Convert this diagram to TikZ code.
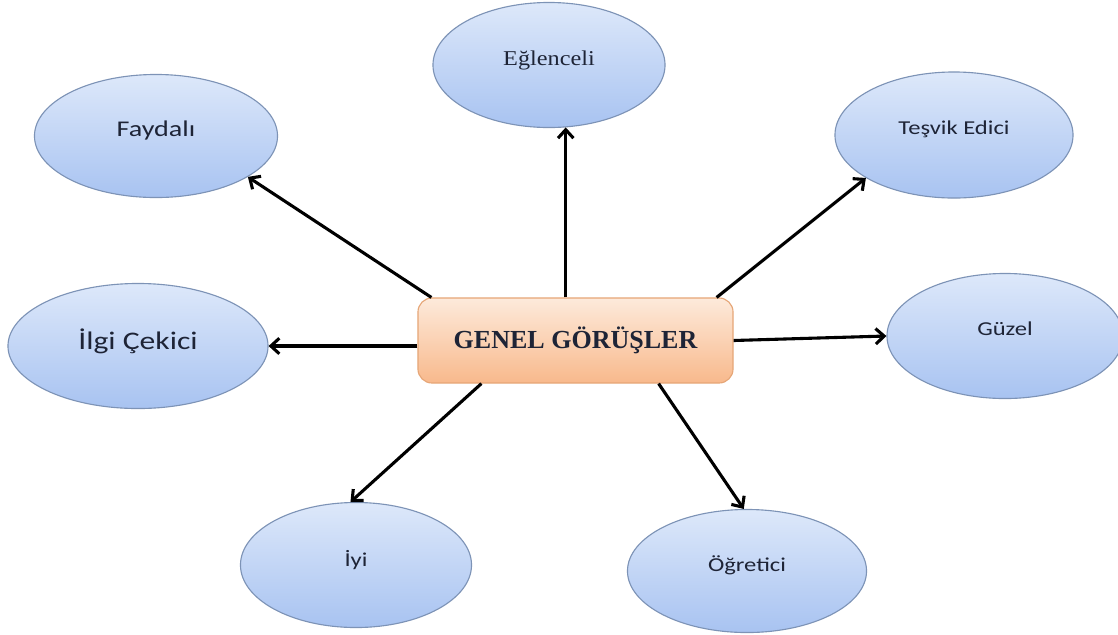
\documentclass[tikz,border=0pt]{standalone}
\usepackage{fontspec}
\setmainfont{Liberation Serif}
\newfontfamily\labelfont{Carlito}[FakeStretch=1.25]
\newfontfamily\serifwide{Liberation Serif}[FakeStretch=1.15]
\usetikzlibrary{arrows.meta, shapes.geometric, positioning}
\definecolor{ovaltop}{HTML}{DDE8FA}
\definecolor{ovalbottom}{HTML}{A8C3F1}
\definecolor{ovalline}{HTML}{7D93B6}
\definecolor{boxtop}{HTML}{FDEADB}
\definecolor{boxbottom}{HTML}{F8B98C}
\definecolor{boxline}{HTML}{E6A677}
\definecolor{labeltext}{HTML}{1E2436}
\tikzset{
  view/.style={ellipse, draw=ovalline, line width=0.8pt, top color=ovaltop,
    bottom color=ovalbottom, inner sep=0pt, text depth=0.35cm,
    font=\labelfont\fontsize{14}{16}\selectfont, text=labeltext},
  mainbox/.style={rectangle, rounded corners=0.35cm, draw=boxline, line width=0.8pt,
    top color=boxtop, bottom color=boxbottom, minimum width=7.875cm,
    minimum height=2.125cm, font=\bfseries\fontsize{18.5}{20}\selectfont, text=labeltext},
  arr/.style={line width=2.2pt, -{Straight Barb[length=6pt,width=11pt]}}
}
\begin{document}
\begin{tikzpicture}[x=0.025cm, y=-0.025cm]
\useasboundingbox (0,0) rectangle (1118,634);

% Central node
\node[mainbox] (box) at (575.5, 340.5) {GENEL GÖRÜŞLER};

% Views around it
\node[view, minimum width=5.8cm, minimum height=3.125cm,
  font=\serifwide\fontsize{15}{17}\selectfont] (egl) at (549, 65) {Eğlenceli};
\node[view, minimum width=6.075cm, minimum height=3.075cm,
  font=\labelfont\fontsize{16}{18}\selectfont] (fay) at (156, 136) {Faydalı};
\node[view, minimum width=5.95cm, minimum height=3.15cm] (tes) at (954, 135) {Teşvik Edici};
\node[view, minimum width=6.5cm, minimum height=3.125cm,
  font=\labelfont\fontsize{18}{20}\selectfont] (ilg) at (138, 346) {İlgi Çekici};
\node[view, minimum width=5.9cm, minimum height=3.125cm] (guz) at (1005, 336) {Güzel};
\node[view, minimum width=5.775cm, minimum height=3.125cm] (iyi) at (356, 565) {İyi};
\node[view, minimum width=5.975cm, minimum height=3.075cm] (ogr) at (747, 571) {Öğretici};

% Arrows from the central node
\draw[arr] (egl.-75 |- box.north) -- (egl.-75);
\draw[arr] ([shift={(14,0)}]box.north west) -- (fay.-24);
\draw[arr] ([shift={(-17,0)}]box.north east) -- (tes.-154);
\draw[arr] (box.west |- ilg.east) -- (ilg.east);
\draw[arr] (box.east) -- (guz.west);
\draw[arr] ([shift={(64,0)}]box.south west) -- (iyi.95);
\draw[arr] ([shift={(-75,0)}]box.south east) -- (ogr.93);
\end{tikzpicture}
\end{document}
